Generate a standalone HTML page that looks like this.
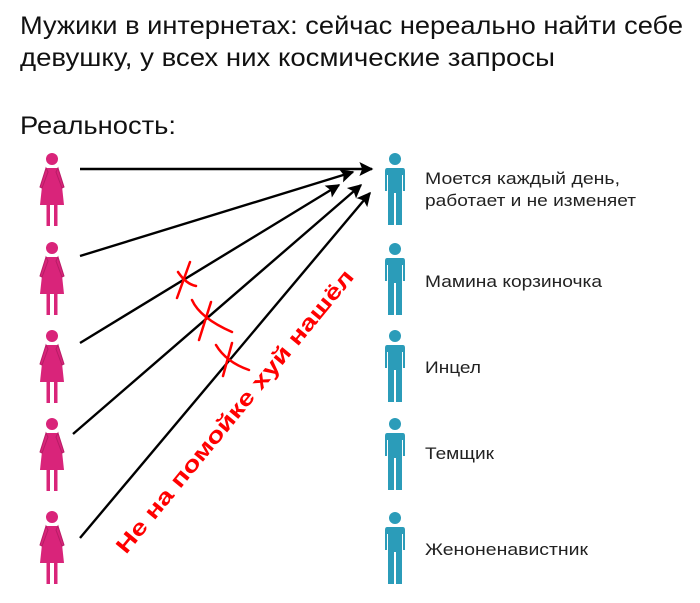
<!DOCTYPE html>
<html><head><meta charset="utf-8"><style>html,body{margin:0;padding:0;background:#fff;}svg{display:block}</style></head><body>
<svg width="700" height="603" viewBox="0 0 700 603" xmlns="http://www.w3.org/2000/svg" font-family="Liberation Sans, sans-serif">
<defs>
<g id="w" fill="#d9247a">
<circle cx="0" cy="6" r="6"/>
<path d="M-6,15 L6,15 L9,24 L12,52 L-12,52 L-9,24 Z"/>
<path d="M-6,15 L-12,34 L-10,35 L-4,19 Z" stroke="#b81c66" stroke-width="1"/>
<path d="M6,15 L12,34 L10,35 L4,19 Z" stroke="#b81c66" stroke-width="1"/>
<rect x="-5.5" y="52" width="3.5" height="21"/>
<rect x="2" y="52" width="3.5" height="21"/>
</g>
<g id="m" fill="#2b9cb9">
<circle cx="0" cy="6" r="6"/>
<path d="M-8,15 L8,15 Q10,15 10,18 L10,38 L8,38 L8,22 L7,22 L7,40 L-7,40 L-7,22 L-8,22 L-8,38 L-10,38 L-10,18 Q-10,15 -8,15 Z"/>
<rect x="-7" y="39" width="6" height="33"/>
<rect x="1" y="39" width="6" height="33"/>
</g>
<marker id="a" viewBox="0 0 10 10" refX="9" refY="5" markerWidth="16" markerHeight="14" orient="auto" markerUnits="userSpaceOnUse"><path d="M0,0 L10,5 L0,10 L2,5 Z" fill="#000"/></marker>
</defs>
<g font-size="25" fill="#111">
<text x="20" y="34" textLength="663" lengthAdjust="spacingAndGlyphs">Мужики в интернетах: сейчас нереально найти себе</text>
<text x="20" y="66" textLength="535" lengthAdjust="spacingAndGlyphs">девушку, у всех них космические запросы</text>
<text x="20" y="134" textLength="156" lengthAdjust="spacingAndGlyphs">Реальность:</text>
</g>
<use href="#w" x="52" y="153"/>
<use href="#w" x="52" y="242"/>
<use href="#w" x="52" y="330"/>
<use href="#w" x="52" y="418"/>
<use href="#w" x="52" y="511"/>
<use href="#m" x="395" y="153"/>
<use href="#m" x="395" y="243"/>
<use href="#m" x="395" y="330"/>
<use href="#m" x="395" y="418"/>
<use href="#m" x="395" y="512"/>
<g font-size="17" fill="#222">
<text x="425" y="184" textLength="195" lengthAdjust="spacingAndGlyphs">Моется каждый день,</text>
<text x="425" y="206" textLength="211" lengthAdjust="spacingAndGlyphs">работает и не изменяет</text>
<text x="425" y="287" textLength="177" lengthAdjust="spacingAndGlyphs">Мамина корзиночка</text>
<text x="425" y="373" textLength="56" lengthAdjust="spacingAndGlyphs">Инцел</text>
<text x="425" y="459" textLength="69" lengthAdjust="spacingAndGlyphs">Темщик</text>
<text x="425" y="555" textLength="163" lengthAdjust="spacingAndGlyphs">Женоненавистник</text>
</g>
<g stroke="#000" stroke-width="2.4" fill="none" marker-end="url(#a)">
<line x1="80" y1="169" x2="372" y2="169"/>
<line x1="80" y1="256" x2="353" y2="172"/>
<line x1="80" y1="343" x2="339" y2="185"/>
<line x1="73" y1="434" x2="361" y2="185"/>
<line x1="80" y1="538" x2="370" y2="193"/>
</g>
<g stroke="#f00" stroke-width="2.5" fill="none" stroke-linecap="round">
<path d="M190,262 L177,298"/><path d="M178,272 Q186,284 196,286"/>
<path d="M211,302 L199,340"/><path d="M192,300 Q200,318 232,332"/>
<path d="M232,343 L223,376"/><path d="M216,345 Q226,362 249,370"/>
</g>
<text transform="translate(126,555) rotate(-50.5)" font-size="22" font-weight="bold" fill="#f00" textLength="360" lengthAdjust="spacingAndGlyphs">Не на помойке хуй нашёл</text>
</svg>
</body></html>
